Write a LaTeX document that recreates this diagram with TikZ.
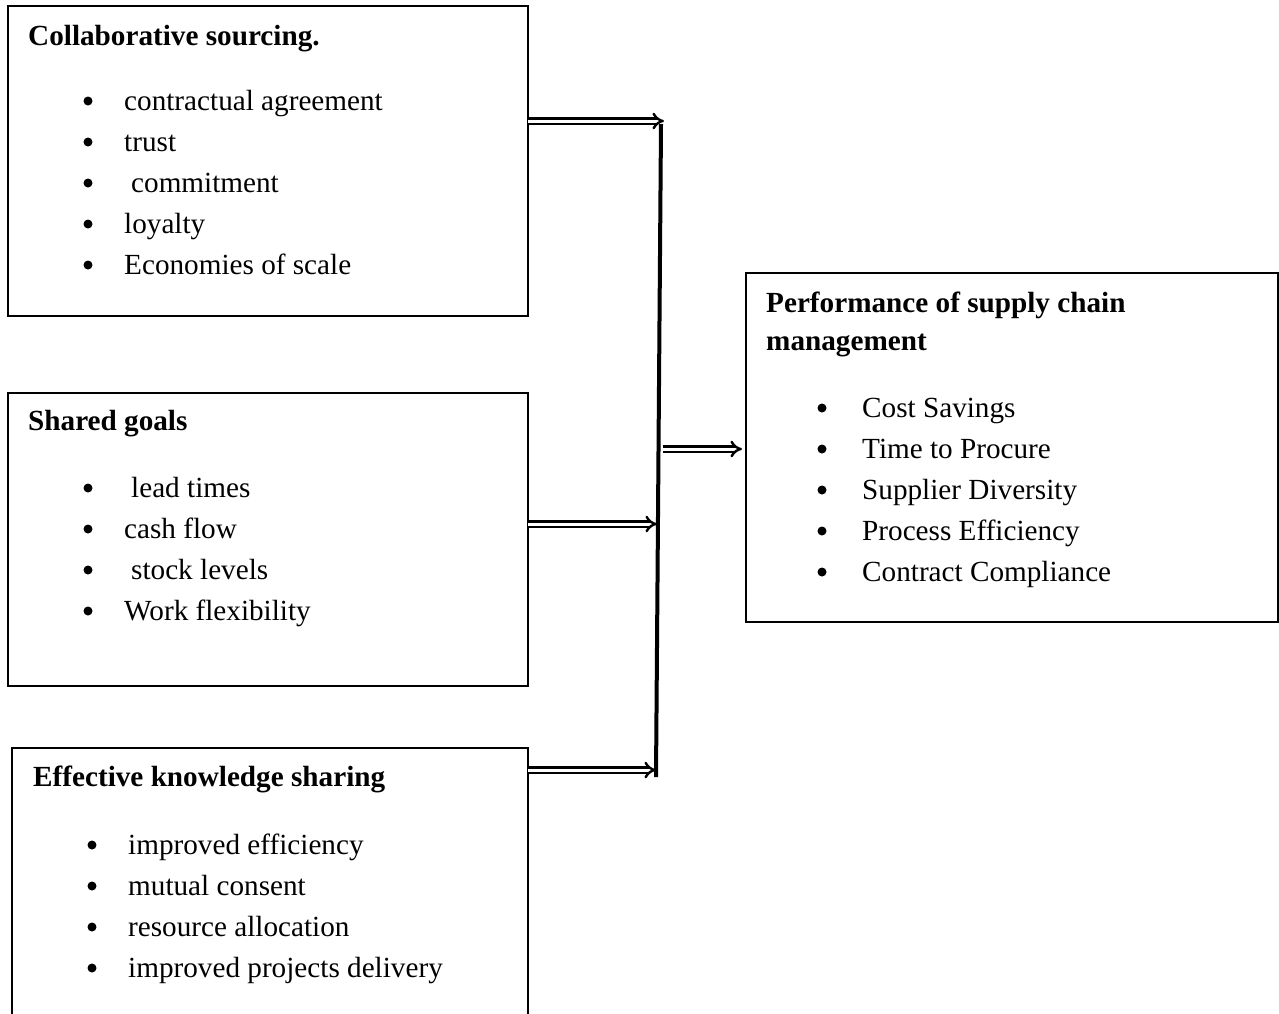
\documentclass[tikz,border=0pt]{standalone}
\usepackage{fontspec}
\setmainfont{Liberation Serif}
\usetikzlibrary{arrows.meta}
\begin{document}
\begin{tikzpicture}[x=1pt,y=-1pt,
  box/.style={draw=black,line width=1.4pt},
  txt/.style={anchor=base west,inner sep=0pt,font=\fontsize{29.2}{41}\selectfont},
  ttl/.style={txt,font=\fontsize{29.2}{41}\selectfont\bfseries},
  dbl/.style={draw=black,line width=2.4pt,double=white,double distance=3pt,-{Implies[scale=1.6]}},
  bul/.style={circle,fill=black,inner sep=0pt,minimum size=9pt}]
\useasboundingbox (0,0) rectangle (1279,1013);
% boxes
\draw[box] (8,6) rectangle (528,316);
\draw[box] (8,393) rectangle (528,686);
\draw[box] (12,1016) -- (12,748) -- (528,748) -- (528,1016);
\draw[box] (746,273) rectangle (1278,622);
% titles
\node[ttl] (t1) at (28,45) {Collaborative sourcing.};
\node[ttl] (t2) at (28,430) {Shared goals};
\node[ttl] (t3) at (33,786) {Effective knowledge sharing};
\node[ttl] (t4a) at (766,312) {Performance of supply chain};
\node[ttl] (t4b) at (766,350) {management};
% box1 items
\foreach \y/\dx/\t [count=\i] in {101/124/contractual agreement,142/124/trust,183/131/commitment,224/124/loyalty,265/124/Economies of scale}{
  \node[bul] (b1\i) at (88,\y) {};
  \node[txt] (i1\i) at (\dx,\y+9) {\t};
}
\foreach \y/\dx/\t [count=\i] in {488/131/lead times,529/124/cash flow,570/131/stock levels,611/124/Work flexibility}{
  \node[bul] (b2\i) at (88,\y) {};
  \node[txt] (i2\i) at (\dx,\y+9) {\t};
}
\foreach \y/\dx/\t [count=\i] in {845/128/improved efficiency,886/128/mutual consent,927/128/resource allocation,968/128/improved projects delivery}{
  \node[bul] (b3\i) at (92,\y) {};
  \node[txt] (i3\i) at (\dx,\y+9) {\t};
}
\foreach \y/\t [count=\i] in {408/Cost Savings,449/Time to Procure,490/Supplier Diversity,531/Process Efficiency,572/Contract Compliance}{
  \node[bul] (b4\i) at (822,\y) {};
  \node[txt] (i4\i) at (862,\y+9) {\t};
}
% connectors
\coordinate (s1) at (528,121);
\coordinate (e1) at (664,121);
\coordinate (s2) at (528,524);
\coordinate (e2) at (657,524);
\coordinate (s3) at (528,770);
\coordinate (e3) at (656,770);
\coordinate (vt) at (661,124);
\coordinate (vb) at (656,777);
\coordinate (s4) at (663,449);
\coordinate (e4) at (742,449);
\draw[line width=4pt] (vt) -- (vb);
\draw[dbl] (s1) -- (e1);
\draw[dbl] (s2) -- (e2);
\draw[dbl] (s3) -- (e3);
\draw[dbl] (s4) -- (e4);
\end{tikzpicture}
\end{document}
